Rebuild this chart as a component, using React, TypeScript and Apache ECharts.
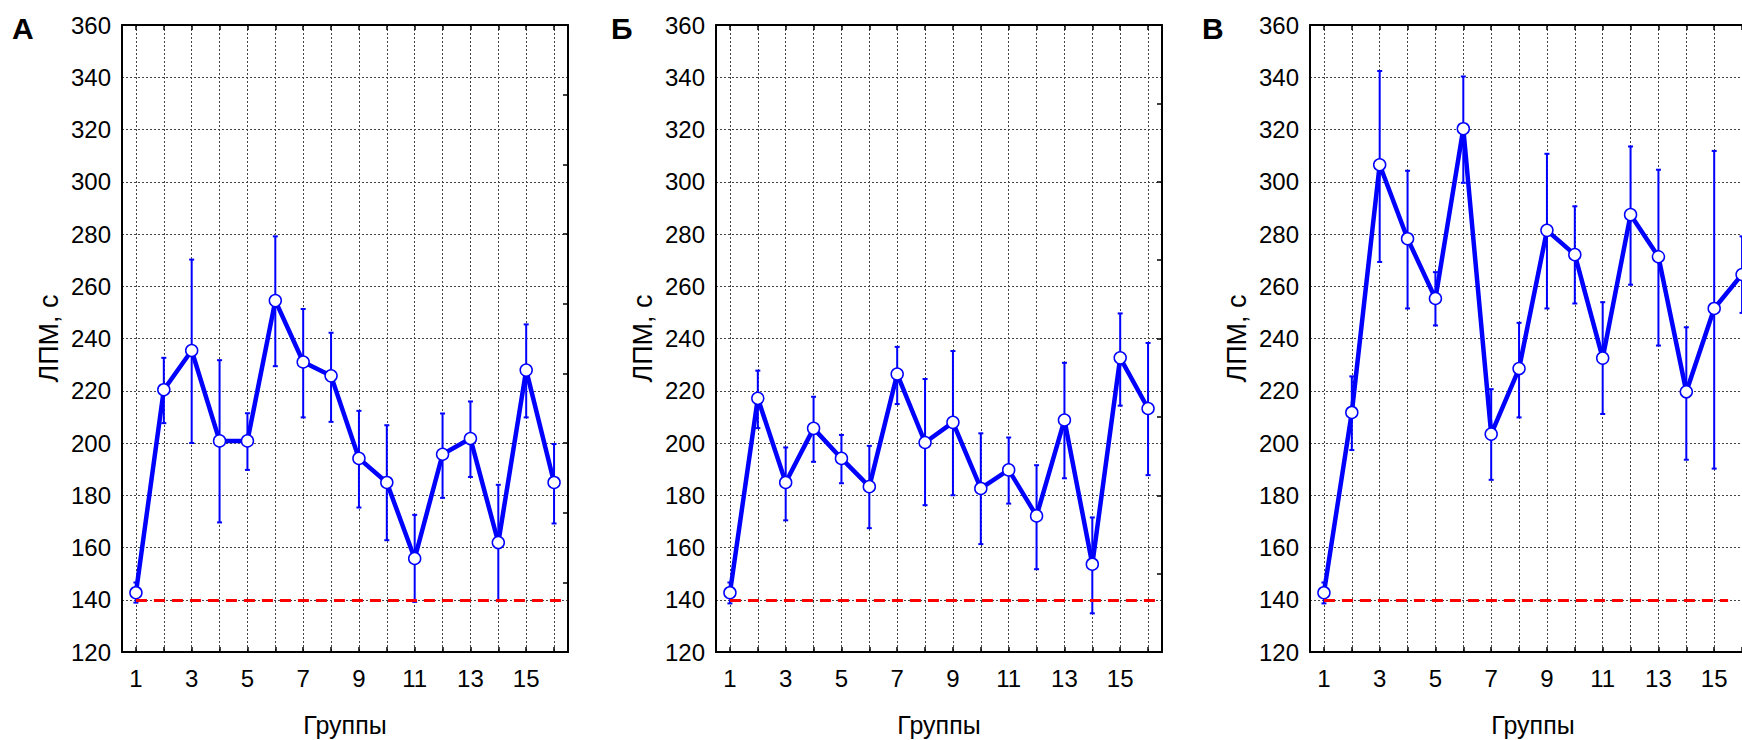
import React, { useEffect, useRef } from 'react';
import * as echarts from 'echarts';

// ---- Data ----
const groups = [1, 2, 3, 4, 5, 6, 7, 8, 9, 10, 11, 12, 13, 14, 15, 16];
const yTickStep = 20;
const yMin = 120;
const yMax = 360;
const threshold = 140;
const panelLetters = ['А', 'Б', 'В'];
const xAxisName = 'Группы';
const yAxisName = 'ЛПМ, с';

const meanA = [142.7, 220.4, 235.4, 200.8, 200.8, 254.5, 231.0, 225.7, 194.1, 184.9, 155.8, 195.7, 201.7, 161.9, 227.9, 184.9];
const lowA = [138.9, 207.6, 200.0, 169.6, 189.7, 229.4, 209.8, 208.1, 175.3, 162.8, 139.2, 179.0, 187.0, 139.5, 209.8, 169.2];
const highA = [146.6, 232.6, 270.2, 231.7, 211.4, 279.1, 251.3, 242.2, 212.3, 206.8, 172.5, 211.3, 215.9, 184.0, 245.4, 199.6];

const meanB = [142.7, 217.1, 184.9, 205.6, 194.1, 183.3, 226.4, 200.2, 207.9, 182.6, 189.7, 172.1, 208.8, 153.6, 232.6, 213.2];
const lowB = [138.6, 205.7, 170.4, 192.8, 184.6, 167.4, 214.9, 176.2, 180.0, 161.3, 176.8, 151.7, 186.5, 134.8, 214.3, 187.7];
const highB = [146.6, 227.7, 198.3, 217.7, 203.1, 198.9, 236.8, 224.5, 235.2, 203.7, 202.1, 191.5, 230.7, 171.5, 249.6, 238.3];

const meanV = [142.7, 211.7, 306.5, 278.2, 255.3, 320.3, 203.4, 228.5, 281.4, 272.1, 232.5, 287.4, 271.3, 219.6, 251.5, 264.5];
const lowV = [138.6, 197.3, 269.3, 251.5, 245.0, 299.6, 185.9, 209.8, 251.5, 253.4, 211.1, 260.6, 237.3, 193.6, 190.2, 249.8];
const highV = [146.6, 225.5, 342.4, 304.2, 265.4, 340.3, 220.6, 246.0, 310.7, 290.6, 253.9, 313.5, 304.6, 244.3, 311.8, 279.1];

const thresholdEnds = ['16.5', '16.5', '15.5'];
const rightTickCounts = [9, 8, 8];

// half-step category positions 0.5 .. 16.5
const xCats: string[] = [];
for (let i = 0; i <= 32; i++) xCats.push(String(0.5 + i * 0.5));

const panels = [
  { mean: meanA, low: lowA, high: highA },
  { mean: meanB, low: lowB, high: highB },
  { mean: meanV, low: lowV, high: highV },
];

const FONT = '"Liberation Sans", Arial, sans-serif';
const BLUE = '#0000ff';
const gridLefts = [122, 716, 1310];
const gridTop = 25;
const gridW = 446;
const gridH = 627;

function buildOption() {
  const grid: any[] = [];
  const xAxis: any[] = [];
  const yAxis: any[] = [];
  const series: any[] = [];
  const graphic: any[] = [];
  const dotted = { color: '#444', width: 1, type: [2, 2] };
  const axisLine = { show: true, onZero: false, lineStyle: { color: '#000', width: 2 } };

  panels.forEach((p, k) => {
    grid.push({
      left: gridLefts[k],
      top: gridTop,
      width: gridW,
      height: gridH,
      containLabel: false,
      outerBoundsMode: 'none',
    });

    xAxis.push({
      gridIndex: k,
      type: 'category',
      data: xCats,
      boundaryGap: false,
      position: 'bottom',
      axisLine,
      axisTick: {
        show: true,
        inside: true,
        length: 5,
        interval: (i: number) => i % 2 === 1,
        lineStyle: { color: '#000', width: 1.5 },
      },
      axisLabel: {
        interval: (i: number) => i % 4 === 1,
        color: '#000',
        fontSize: 24,
        fontFamily: FONT,
        margin: 14,
      },
      splitLine: { show: true, interval: (i: number) => i % 2 === 1, lineStyle: dotted },
      name: xAxisName,
      nameLocation: 'middle',
      nameGap: 60,
      nameTextStyle: { fontSize: 25, color: '#000', fontFamily: FONT, lineHeight: 26 },
    });
    xAxis.push({
      gridIndex: k,
      type: 'category',
      data: xCats,
      boundaryGap: false,
      position: 'top',
      axisLine,
      axisTick: {
        show: true,
        inside: true,
        length: 5,
        interval: (i: number) => i % 2 === 1,
        lineStyle: { color: '#000', width: 1.5 },
      },
      axisLabel: { show: false },
      splitLine: { show: false },
    });

    yAxis.push({
      gridIndex: k,
      type: 'value',
      min: yMin,
      max: yMax,
      interval: yTickStep,
      position: 'left',
      axisLine,
      axisTick: { show: false },
      axisLabel: { color: '#000', fontSize: 24, fontFamily: FONT, margin: 11 },
      splitLine: { show: true, lineStyle: dotted },
      name: yAxisName,
      nameLocation: 'middle',
      nameGap: 60,
      nameRotate: 90,
      nameTextStyle: { fontSize: 27, color: '#000', fontFamily: FONT },
    });
    yAxis.push({
      gridIndex: k,
      type: 'value',
      min: 0,
      max: rightTickCounts[k],
      interval: 1,
      position: 'right',
      axisLine,
      axisTick: { show: true, inside: true, length: 5, lineStyle: { color: '#000', width: 1.5 } },
      axisLabel: { show: false },
      splitLine: { show: false },
    });

    series.push({
      type: 'custom',
      xAxisIndex: 2 * k,
      yAxisIndex: 2 * k,
      z: 2,
      data: groups.map((g, i) => [String(g), p.low[i], p.high[i]]),
      encode: { x: 0, y: [1, 2] },
      renderItem: (params: any, api: any) => {
        const xi = api.value(0);
        const lo = api.coord([xi, api.value(1)]);
        const hi = api.coord([xi, api.value(2)]);
        const cw = 2.5;
        const st = { stroke: BLUE, lineWidth: 2 };
        return {
          type: 'group',
          children: [
            { type: 'line', shape: { x1: lo[0], y1: lo[1], x2: hi[0], y2: hi[1] }, style: st },
            { type: 'line', shape: { x1: hi[0] - cw, y1: hi[1], x2: hi[0] + cw, y2: hi[1] }, style: st },
            { type: 'line', shape: { x1: lo[0] - cw, y1: lo[1], x2: lo[0] + cw, y2: lo[1] }, style: st },
          ],
        };
      },
      markLine: {
        silent: true,
        symbol: 'none',
        label: { show: false },
        lineStyle: { color: '#ff0000', type: [11, 7], width: 3, opacity: 1 },
        data: [[{ coord: ['1', threshold] }, { coord: [thresholdEnds[k], threshold] }]],
      },
    });

    series.push({
      type: 'line',
      xAxisIndex: 2 * k,
      yAxisIndex: 2 * k,
      z: 4,
      data: groups.map((g, i) => [String(g), p.mean[i]]),
      lineStyle: { color: BLUE, width: 4.5 },
      symbol: 'circle',
      symbolSize: 12,
      showSymbol: true,
      showAllSymbol: true,
      itemStyle: { color: '#ffffff', borderColor: BLUE, borderWidth: 1.5 },
    });

    graphic.push({
      type: 'text',
      left: gridLefts[k] - [110, 105, 108][k],
      top: 13,
      style: {
        text: panelLetters[k],
        fontSize: 30,
        fontWeight: 'bold',
        fontFamily: FONT,
        fill: '#000',
      },
    });
  });

  return {
    animation: false,
    backgroundColor: '#ffffff',
    textStyle: { fontFamily: FONT },
    grid,
    xAxis,
    yAxis,
    series,
    graphic,
  };
}

export default function App() {
  const ref = useRef<HTMLDivElement>(null);
  useEffect(() => {
    if (!ref.current) return;
    const chart = echarts.init(ref.current, undefined, { renderer: 'svg' });
    chart.setOption(buildOption() as any);
    return () => chart.dispose();
  }, []);
  return (
    <div
      style={{ position: 'fixed', left: 0, top: 0, width: 1742, height: 740, overflow: 'hidden', background: '#fff' }}
    >
      <div ref={ref} style={{ width: 1742, height: 740 }} />
    </div>
  );
}
